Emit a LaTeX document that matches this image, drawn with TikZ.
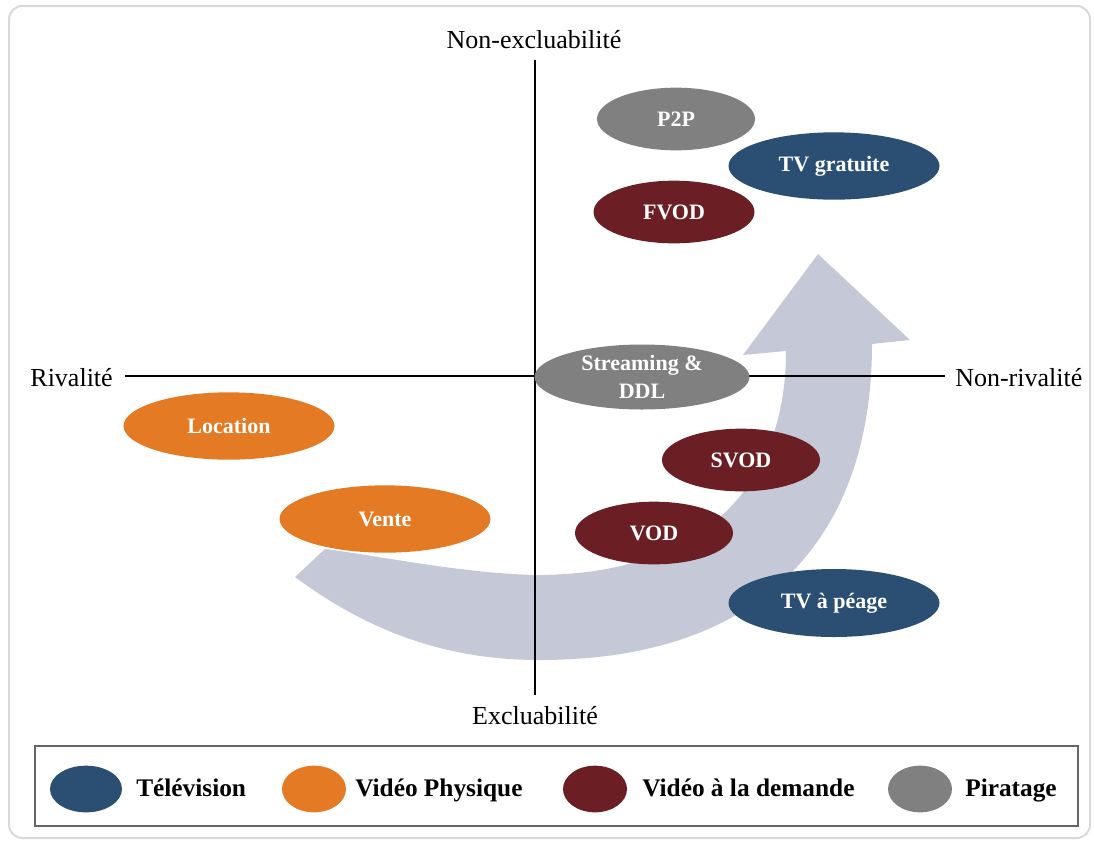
\documentclass[tikz,border=0pt]{standalone}
\usepackage{fontspec}
\setmainfont{Liberation Serif}
\usetikzlibrary{shapes.geometric}
\definecolor{tvblue}{RGB}{43,79,114}
\definecolor{physorange}{RGB}{229,122,36}
\definecolor{vodred}{RGB}{107,31,36}
\definecolor{pirgray}{RGB}{128,128,128}
\definecolor{arrowgray}{RGB}{197,200,215}
\begin{document}
\begin{tikzpicture}[x=0.75pt,y=-0.75pt,
  bubble/.style={ellipse, inner sep=0pt, text=white, font=\fontsize{16.5}{21}\selectfont\bfseries, align=center},
  smallbub/.style={bubble, minimum width=118.5pt, minimum height=47pt},
  bigbub/.style={bubble, minimum width=158.25pt, minimum height=50.5pt},
  axislabel/.style={font=\fontsize{19.5}{23}\selectfont, inner sep=0pt},
  legdot/.style={ellipse, inner sep=0pt, minimum width=48pt, minimum height=35pt},
  legtext/.style={font=\fontsize{19}{23}\selectfont\bfseries, anchor=base west, inner sep=0pt}]
\useasboundingbox (0,0) rectangle (1094,843);
\draw[line width=1.5pt, black!15, rounded corners=10pt] (9,6) rectangle (1090,838);
\fill[arrowgray] (295,577) .. controls (380,640) and (460,660) .. (540,660) .. controls (760,660) and (872,540) .. (872,344) -- (910,340) -- (818,254) -- (743,355) -- (786,351) .. controls (786,470) and (720,575) .. (535,575) .. controls (460,573) and (380,556) .. (325,549) -- cycle;
\coordinate (ytop) at (535,60);
\coordinate (ybot) at (535,695);
\coordinate (xleft) at (125,376);
\coordinate (xright) at (945,376);
\draw[line width=1.1pt] (ytop) -- (ybot);
\draw[line width=1.1pt] (xleft) -- (xright);
\node[axislabel] (nonexcl) at (534,40) {Non-excluabilité};
\node[axislabel] (excl) at (535,716) {Excluabilité};
\node[axislabel, anchor=east] (riv) at (113,378) {Rivalité};
\node[axislabel, anchor=west] (nonriv) at (955,378) {Non-rivalité};
\node[smallbub, fill=pirgray] (p2p) at (676,119) {P2P};
\node[bigbub, fill=tvblue] (tvgratuite) at (834,166) {TV gratuite};
\node[smallbub, fill=vodred, minimum width=120.75pt] (fvod) at (674,212) {FVOD};
\node[bigbub, fill=pirgray, minimum width=161.25pt, minimum height=48.75pt] (streaming) at (642,377) {Streaming \&\\DDL};
\node[bigbub, fill=physorange] (location) at (229,426) {Location};
\node[bigbub, fill=physorange] (vente) at (385,519) {Vente};
\node[smallbub, fill=vodred] (svod) at (741,460) {SVOD};
\node[smallbub, fill=vodred] (vod) at (654,533) {VOD};
\node[bigbub, fill=tvblue, minimum height=51pt] (tvpeage) at (834,603) {TV à péage};
\draw[line width=1pt, black!60] (35,746) rectangle (1078,826);
\node[legdot, fill=tvblue, minimum width=54pt] (legtv) at (86,789) {};
\node[legtext] (legtvtext) at (136,796) {Télévision};
\node[legdot, fill=physorange] (legphys) at (314,789) {};
\node[legtext] (legphystext) at (355,796) {Vidéo Physique};
\node[legdot, fill=vodred] (legvod) at (595,789) {};
\node[legtext] (legvodtext) at (642,796) {Vidéo à la demande};
\node[legdot, fill=pirgray] (legpir) at (920,789) {};
\node[legtext] (legpirtext) at (965,796) {Piratage};
\end{tikzpicture}
\end{document}
